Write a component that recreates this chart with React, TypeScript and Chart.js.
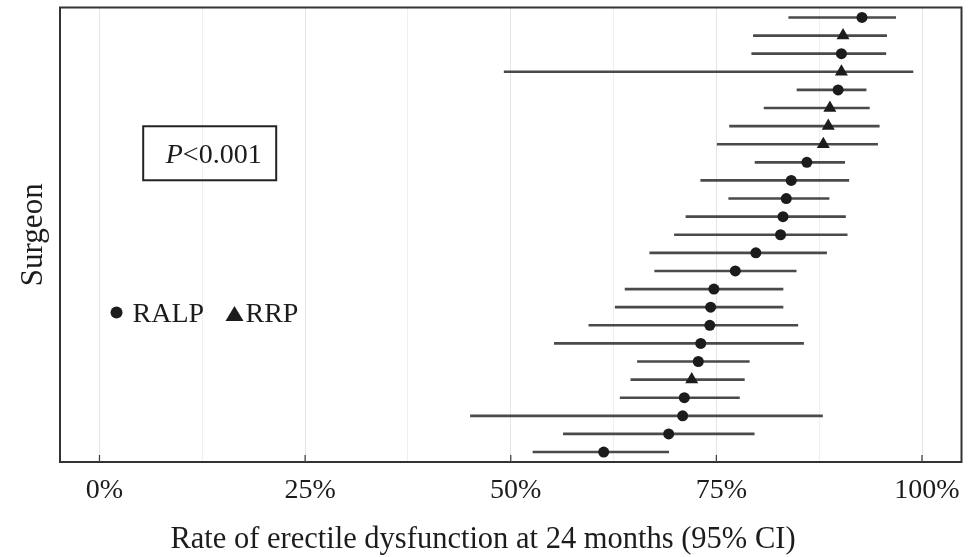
import React, { useEffect, useRef } from 'react';
import { Chart, registerables } from 'chart.js';

Chart.register(...registerables);

// ---- data (top to bottom, one row per surgeon) ----
const surgeons = [
  'S01', 'S02', 'S03', 'S04', 'S05', 'S06', 'S07', 'S08', 'S09', 'S10',
  'S11', 'S12', 'S13', 'S14', 'S15', 'S16', 'S17', 'S18', 'S19', 'S20',
  'S21', 'S22', 'S23', 'S24', 'S25',
];
const approach = [
  'RALP', 'RRP', 'RALP', 'RRP', 'RALP', 'RRP', 'RRP', 'RRP', 'RALP', 'RALP',
  'RALP', 'RALP', 'RALP', 'RALP', 'RALP', 'RALP', 'RALP', 'RALP', 'RALP', 'RALP',
  'RRP', 'RALP', 'RALP', 'RALP', 'RALP',
];
const estimate = [
  92.7, 90.4, 90.2, 90.2, 89.8, 88.8, 88.6, 88.0, 86.0, 84.1,
  83.5, 83.1, 82.8, 79.8, 77.3, 74.7, 74.3, 74.2, 73.1, 72.8,
  72.0, 71.1, 70.9, 69.2, 61.3,
];
const lowerCI = [
  83.8, 79.5, 79.3, 49.2, 84.8, 80.8, 76.6, 75.1, 79.7, 73.1,
  76.5, 71.3, 69.9, 66.9, 67.5, 63.9, 62.7, 59.5, 55.3, 65.4,
  64.6, 63.3, 45.1, 56.4, 52.7,
];
const upperCI = [
  96.8, 95.7, 95.6, 98.9, 93.2, 93.6, 94.8, 94.6, 90.6, 91.1,
  88.7, 90.7, 90.9, 88.4, 84.7, 83.1, 83.1, 84.9, 85.6, 79.0,
  78.4, 77.8, 87.9, 79.6, 69.2,
];
const gridTicks = [0, 12.5, 25, 37.5, 50, 62.5, 75, 87.5, 100];
const labelTicks = [0, 25, 50, 75, 100];
const xTitle = 'Rate of erectile dysfunction at 24 months (95% CI)';
const yTitle = 'Surgeon';
const pValueItalic = 'P';
const pValueRest = '<0.001';
const legendLabels = ['RALP', 'RRP'];

const FONT = "'Liberation Serif', 'Times New Roman', serif";
const INK = '#1c1c1c';

const annotationPlugin = {
  id: 'notes',
  afterDatasetsDraw(chart: any) {
    const { ctx, scales } = chart;
    const x = scales.x;
    const y = scales.y;
    ctx.save();
    // P-value box
    const bx = x.getPixelForValue(13.4);
    const by = y.getPixelForValue(7.5);
    ctx.strokeStyle = '#222';
    ctx.lineWidth = 2;
    ctx.strokeRect(bx - 66.5, by - 27, 133, 54);
    ctx.font = `italic 28px ${FONT}`;
    const w1 = ctx.measureText(pValueItalic).width;
    ctx.font = `28px ${FONT}`;
    const w2 = ctx.measureText(pValueRest).width;
    const tx = bx + 4 - (w1 + w2) / 2;
    ctx.fillStyle = INK;
    ctx.textAlign = 'left';
    ctx.textBaseline = 'alphabetic';
    ctx.font = `italic 28px ${FONT}`;
    ctx.fillText(pValueItalic, tx, by + 10);
    ctx.font = `28px ${FONT}`;
    ctx.fillText(pValueRest, tx + w1, by + 10);

    // legend
    const lx = x.getPixelForValue(2.07);
    const ly = y.getPixelForValue(16.3);
    ctx.beginPath();
    ctx.arc(lx, ly, 6, 0, Math.PI * 2);
    ctx.fill();
    ctx.fillText(legendLabels[0], lx + 16, ly + 9);
    const tcx = lx + 118;
    ctx.beginPath();
    ctx.moveTo(tcx, ly - 6.5);
    ctx.lineTo(tcx + 9, ly + 8.5);
    ctx.lineTo(tcx - 9, ly + 8.5);
    ctx.closePath();
    ctx.fill();
    ctx.fillText(legendLabels[1], lx + 129, ly + 9);
    ctx.restore();
  },
};

const framePlugin = {
  id: 'frame',
  afterDraw(chart: any) {
    const { ctx, chartArea: a, scales } = chart;
    ctx.save();
    ctx.strokeStyle = '#333';
    ctx.lineWidth = 2;
    ctx.strokeRect(a.left, a.top, a.right - a.left, a.bottom - a.top);
    ctx.strokeStyle = '#444';
    ctx.lineWidth = 1.3;
    labelTicks.forEach((v) => {
      const px = scales.x.getPixelForValue(v);
      ctx.beginPath();
      ctx.moveTo(px, a.bottom);
      ctx.lineTo(px, a.bottom - 7);
      ctx.stroke();
    });
    ctx.restore();
  },
};

export default function App() {
  const canvasRef = useRef<HTMLCanvasElement | null>(null);

  useEffect(() => {
    const canvas = canvasRef.current;
    if (!canvas) return;
    const ralp = surgeons
      .map((s, i) => ({ x: estimate[i], y: i, t: approach[i] }))
      .filter((p) => p.t === 'RALP')
      .map((p) => ({ x: p.x, y: p.y }));
    const rrp = surgeons
      .map((s, i) => ({ x: estimate[i], y: i, t: approach[i] }))
      .filter((p) => p.t === 'RRP')
      .map((p) => ({ x: p.x, y: p.y }));
    const bars = surgeons.map((s, i) => ({ x: [lowerCI[i], upperCI[i]], y: i }));

    const chart = new Chart(canvas, {
      type: 'scatter',
      data: {
        datasets: [
          {
            type: 'scatter',
            label: legendLabels[0],
            data: ralp,
            pointStyle: 'circle',
            pointRadius: 5.5,
            backgroundColor: INK,
            borderWidth: 0,
            order: 0,
          } as any,
          {
            type: 'scatter',
            label: legendLabels[1],
            data: rrp,
            pointStyle: 'triangle',
            pointRadius: 7.5,
            backgroundColor: INK,
            borderWidth: 0,
            order: 0,
          } as any,
          {
            type: 'bar',
            label: '95% CI',
            data: bars,
            indexAxis: 'y',
            backgroundColor: '#4a4a4a',
            barThickness: 2,
            borderWidth: 0,
            order: 1,
          } as any,
        ],
      },
      options: {
        responsive: false,
        animation: false,
        layout: { padding: { top: 7, right: 3, left: 0, bottom: 0 } },
        plugins: {
          legend: { display: false },
          tooltip: { enabled: false },
          title: {
            display: true,
            position: 'bottom',
            text: xTitle,
            color: INK,
            font: { family: FONT, size: 30.5, weight: 'normal', lineHeight: 1.1 },
            padding: { top: 0, bottom: 0 },
          },
        },
        scales: {
          x: {
            type: 'linear',
            position: 'bottom',
            min: -4.8,
            max: 104.8,
            offset: false,
            afterBuildTicks: (s: any) => {
              s.ticks = gridTicks.map((v) => ({ value: v }));
            },
            afterFit: (s: any) => {
              s.height = 61.45;
              s.paddingLeft = 0;
              s.paddingRight = 0;
            },
            ticks: {
              autoSkip: false,
              maxRotation: 0,
              minRotation: 0,
              padding: 12,
              labelOffset: 5,
              color: INK,
              font: { family: FONT, size: 28 },
              callback: (v: any) => (labelTicks.includes(Number(v)) ? `${v}%` : ''),
            },
            grid: {
              drawTicks: false,
              offset: false,
              lineWidth: 1,
              color: (c: any) =>
                c.tick && labelTicks.includes(c.tick.value) ? '#e4e4e4' : '#efefef',
            },
            border: { display: false },
          },
          y: {
            type: 'linear',
            position: 'left',
            min: -0.55,
            max: 24.55,
            reverse: true,
            offset: false,
            afterFit: (s: any) => {
              s.width = 60;
              s.paddingTop = 0;
              s.paddingBottom = 0;
            },
            ticks: { display: false },
            grid: { display: false, drawTicks: false, offset: false },
            border: { display: false },
            title: {
              display: true,
              text: yTitle,
              color: INK,
              font: { family: FONT, size: 31 },
              padding: { top: 15.5, bottom: 0 },
            },
          },
        },
      } as any,
      plugins: [annotationPlugin, framePlugin],
    });
    return () => chart.destroy();
  }, []);

  return (
    <div style={{ position: 'fixed', left: 0, top: 0, width: 969, height: 557, background: '#fff' }}>
      <canvas ref={canvasRef} width={969} height={557} style={{ display: 'block', width: 969, height: 557 }} />
    </div>
  );
}
